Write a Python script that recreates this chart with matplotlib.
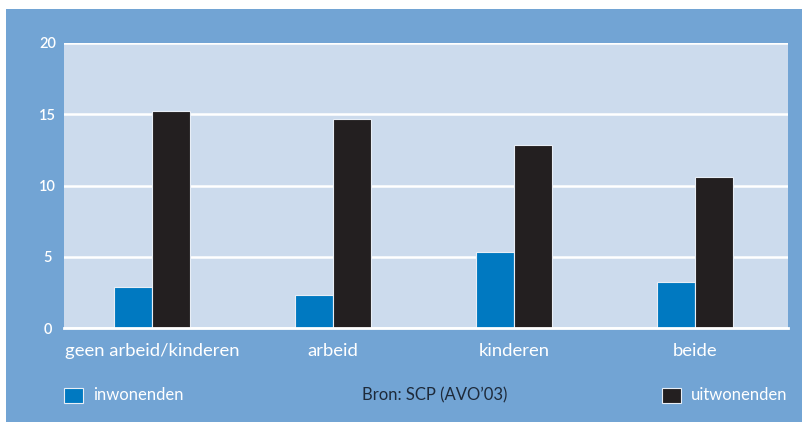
import matplotlib
matplotlib.use("Agg")
import matplotlib.pyplot as plt
from matplotlib.patches import Rectangle
import numpy as np

categories = ["geen arbeid/kinderen", "arbeid", "kinderen", "beide"]
inwonenden = [2.9, 2.3, 5.3, 3.2]
uitwonenden = [15.2, 14.7, 12.85, 10.6]
yticks = [0, 5, 10, 15, 20]
series_names = ["inwonenden", "uitwonenden"]
source = "Bron: SCP (AVO\u201903)"

W, H = 802, 422
fig = plt.figure(figsize=(W / 100, H / 100), dpi=100)
fig.patch.set_facecolor("white")

panel_blue = "#72A4D4"
plot_bg = "#CCDBED"
c_in = "#0079C1"
c_out = "#231F20"
font = "Lato"

# blue panel
fig.patches.append(Rectangle((6 / W, 0), 1 - 6 / W, 1 - 9 / H, transform=fig.transFigure,
                             facecolor=panel_blue, edgecolor="none", zorder=0))

x0, x1 = 64, 788
ytop, y0 = 43, 328
ax = fig.add_axes([x0 / W, 1 - y0 / H, (x1 - x0) / W, (y0 - ytop) / H])
ax.set_facecolor(plot_bg)
ax.set_zorder(2)

x = np.arange(len(categories))
w = 0.21
ax.bar(x - w / 2, inwonenden, w, color=c_in, edgecolor="#E8EEF6", linewidth=0.8, zorder=3)
ax.bar(x + w / 2, uitwonenden, w, color=c_out, edgecolor="#E8EEF6", linewidth=0.8, zorder=3)

ax.set_xlim(-0.486, len(categories) - 0.486)
ax.set_ylim(0, 20)
ax.set_yticks(yticks)
ax.set_yticklabels([str(t) for t in yticks], fontsize=10.5, color="white", family=font,
                   fontweight="semibold")
ax.set_xticks(x)
ax.set_xticklabels(categories, fontsize=13.3, color="white", family=font)
ax.tick_params(axis="both", length=0)
ax.tick_params(axis="y", pad=12)
ax.tick_params(axis="x", pad=11)
for t in ax.get_yticklabels():
    t.set_horizontalalignment("center")
ax.yaxis.grid(True, color="white", linewidth=1.8, zorder=1)
ax.set_axisbelow(True)
for s in ["top", "right", "left"]:
    ax.spines[s].set_visible(False)
ax.spines["bottom"].set_color("white")
ax.spines["bottom"].set_linewidth(2)
ax.spines["bottom"].set_zorder(4)

# legend
ly = 395
def sq(xl, color):
    fig.patches.append(Rectangle((xl / W, 1 - 403 / H), 19 / W, 15 / H, transform=fig.transFigure,
                                 facecolor=color, edgecolor="#E8EEF6", linewidth=0.8, zorder=3))
sq(64, c_in)
fig.text(93 / W, 1 - ly / H, series_names[0], color="white", fontsize=12, family=font, va="center")
sq(662, c_out)
fig.text(691 / W, 1 - ly / H, series_names[1], color="white", fontsize=12, family=font, va="center")
fig.text(435 / W, 1 - ly / H, source, color="#1E2A3A", fontsize=12, family=font, va="center", ha="center")

fig.savefig("out.png", dpi=100, facecolor=fig.get_facecolor())
